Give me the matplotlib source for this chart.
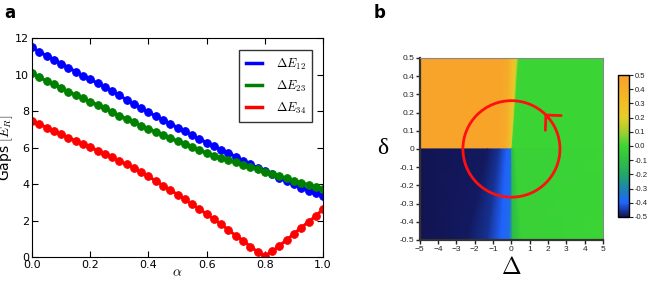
import numpy as np
import matplotlib
matplotlib.use("Agg")
import matplotlib.pyplot as plt
from matplotlib.colors import LinearSegmentedColormap
from matplotlib.patches import Ellipse

plt.rcParams["mathtext.fontset"] = "cm"

# panel a: energy gaps vs alpha
alpha = np.linspace(0, 1, 41)
gap12 = [11.51, 11.25, 11.05, 10.83, 10.61, 10.39, 10.17, 9.95, 9.75, 9.53,
         9.32, 9.08, 8.87, 8.62, 8.40, 8.16, 7.95, 7.74, 7.52, 7.32,
         7.10, 6.90, 6.68, 6.48, 6.28, 6.08, 5.88, 5.70, 5.51, 5.29,
         5.09, 4.91, 4.73, 4.55, 4.36, 4.18, 4.00, 3.81, 3.65, 3.51, 3.36]
gap23 = [10.08, 9.86, 9.66, 9.48, 9.28, 9.07, 8.89, 8.71, 8.53, 8.35,
         8.15, 7.96, 7.76, 7.57, 7.40, 7.21, 7.03, 6.87, 6.68, 6.52,
         6.36, 6.19, 6.03, 5.88, 5.72, 5.57, 5.43, 5.31, 5.19, 5.07,
         4.95, 4.82, 4.69, 4.56, 4.44, 4.31, 4.20, 4.07, 3.96, 3.85, 3.74]
gap34 = [7.48, 7.30, 7.10, 6.92, 6.74, 6.55, 6.37, 6.19, 6.03, 5.84,
         5.66, 5.48, 5.27, 5.08, 4.88, 4.66, 4.42, 4.18, 3.92, 3.67,
         3.43, 3.18, 2.90, 2.63, 2.36, 2.08, 1.79, 1.50, 1.17, 0.91,
         0.58, 0.29, 0.08, 0.31, 0.62, 0.95, 1.28, 1.62, 1.93, 2.26, 2.63]
gap_labels = [r"$\Delta E_{12}$", r"$\Delta E_{23}$", r"$\Delta E_{34}$"]

# panel b: phase map, sampled along Delta on the edges of each half plane
# upper half (delta from 0 to 0.5)
up_D_at0 = [-5, -0.9, -0.35, -0.15, -0.05, 0.0, 0.04, 0.25, 5]
up_D_at05 = [-5, -0.6, -0.2, 0.0, 0.15, 0.28, 0.4, 0.8, 5]
up_vals = [0.48, 0.47, 0.43, 0.33, 0.25, 0.18, 0.0, -0.01, -0.01]
# lower half (delta from -0.5 to 0)
lo_D_atm05 = [-5, -2.4, -1.3, -0.6, -0.1, 0.06, 0.55, 5]
lo_D_at0 = [-5, -1.3, -0.7, -0.25, -0.02, 0.02, 0.2, 5]
lo_vals = [-0.50, -0.49, -0.46, -0.40, -0.37, -0.12, -0.02, -0.01]

cmap = LinearSegmentedColormap.from_list("phase", [
    (0.0, "#121452"), (0.1, "#2064ff"), (0.2, "#1c85b0"), (0.3, "#22a868"),
    (0.4, "#30c042"), (0.5, "#3cd634"), (0.6, "#a0d030"), (0.7, "#e6cc2c"),
    (0.8, "#f2be26"), (1.0, "#f9a02a")])

fig = plt.figure(figsize=(6.54, 2.81), dpi=100)

# ---- panel a ----
ax = fig.add_axes([0.049, 0.085, 0.445, 0.779])
for y, c, lab in zip([gap12, gap23, gap34], ["b", "g", "r"], gap_labels):
    ax.plot(alpha, y, color=c, lw=2.2, marker="o", ms=5.6, mew=0.6,
            mec=c, label=lab)
ax.set_xlim(0, 1)
ax.set_ylim(0, 12)
ax.set_xticks([0, 0.2, 0.4, 0.6, 0.8, 1.0])
ax.set_xticklabels(["0.0", "0.2", "0.4", "0.6", "0.8", "1.0"])
ax.set_yticks(range(0, 13, 2))
ax.tick_params(direction="in", top=True, right=True, labelsize=8, pad=2,
               length=4)
ax.set_xlabel(r"$\alpha$", fontsize=10, labelpad=-3)
ax.set_ylabel(r"Gaps $[E_R]$", fontsize=10, labelpad=0)
leg = ax.legend(loc="upper right", bbox_to_anchor=(0.962, 0.945), fontsize=9,
                fancybox=False, edgecolor="black", handlelength=1.3,
                handletextpad=1.1, labelspacing=0.55, borderpad=0.5,
                borderaxespad=0)
leg.get_frame().set_linewidth(1.0)
for h in leg.get_lines():
    h.set_marker("")
    h.set_linewidth(2.5)

# ---- panel b ----
bx = fig.add_axes([0.642, 0.146, 0.280, 0.648])
Xu = np.array([up_D_at0, up_D_at05])
Yu = np.array([[0.0] * len(up_vals), [0.5] * len(up_vals)])
Cu = np.array([up_vals, up_vals])
bx.pcolormesh(Xu, Yu, Cu, cmap=cmap, vmin=-0.5, vmax=0.5, shading="gouraud")
Xl = np.array([lo_D_atm05, lo_D_at0])
Yl = np.array([[-0.5] * len(lo_vals), [0.0] * len(lo_vals)])
Cl = np.array([lo_vals, lo_vals])
mesh = bx.pcolormesh(Xl, Yl, Cl, cmap=cmap, vmin=-0.5, vmax=0.5,
                     shading="gouraud")
bx.set_xlim(-5, 5)
bx.set_ylim(-0.5, 0.5)

bx.add_patch(Ellipse((0, 0), 5.3, 0.53, fill=False, color="#ff1010", lw=2))
bx.annotate("", xy=(1.81, 0.194), xytext=(2.05, 0.168),
            arrowprops=dict(arrowstyle="->,head_length=0.6,head_width=0.6",
                            color="#ff1010", lw=2, mutation_scale=13,
                            shrinkA=0, shrinkB=0))

bx.set_xticks(range(-5, 6))
bx.set_yticks([0.5, 0.4, 0.3, 0.2, 0.1, 0, -0.1, -0.2, -0.3, -0.4, -0.5])
bx.set_yticklabels(["0.5", "0.4", "0.3", "0.2", "0.1", "0", "-0.1", "-0.2",
                    "-0.3", "-0.4", "-0.5"])
bx.tick_params(direction="out", length=3, width=1, labelsize=6, pad=1,
               colors="#222222")
for t in bx.get_xticklabels() + bx.get_yticklabels():
    t.set_family("Liberation Sans")
for s in ["left", "bottom"]:
    bx.spines[s].set_linewidth(1.6)
    bx.spines[s].set_color("#333333")
for s in ["top", "right"]:
    bx.spines[s].set_linewidth(0.8)
    bx.spines[s].set_color("#888888")
bx.set_xlabel(r"$\Delta$", fontsize=17, family="Liberation Serif",
              labelpad=3)
bx.set_ylabel("δ", fontsize=17, family="Liberation Serif", rotation=0,
              labelpad=12, va="center")

cax = fig.add_axes([0.945, 0.228, 0.0168, 0.505])
cb = fig.colorbar(mesh, cax=cax, ticks=np.round(np.arange(-0.5, 0.51, 0.1), 1))
cb.ax.set_yticklabels(["-0.5", "-0.4", "-0.3", "-0.2", "-0.1", "0.0", "0.1",
                       "0.2", "0.3", "0.4", "0.5"])
cb.ax.tick_params(direction="out", length=3, labelsize=5.5, pad=1,
                  colors="#222222")
for t in cb.ax.get_yticklabels():
    t.set_family("Liberation Sans")
cb.outline.set_linewidth(1.0)

fig.text(0.006, 0.955, "a", fontsize=12, fontweight="bold", va="center")
fig.text(0.571, 0.955, "b", fontsize=12, fontweight="bold", va="center")

fig.savefig("out.png", dpi=100)
